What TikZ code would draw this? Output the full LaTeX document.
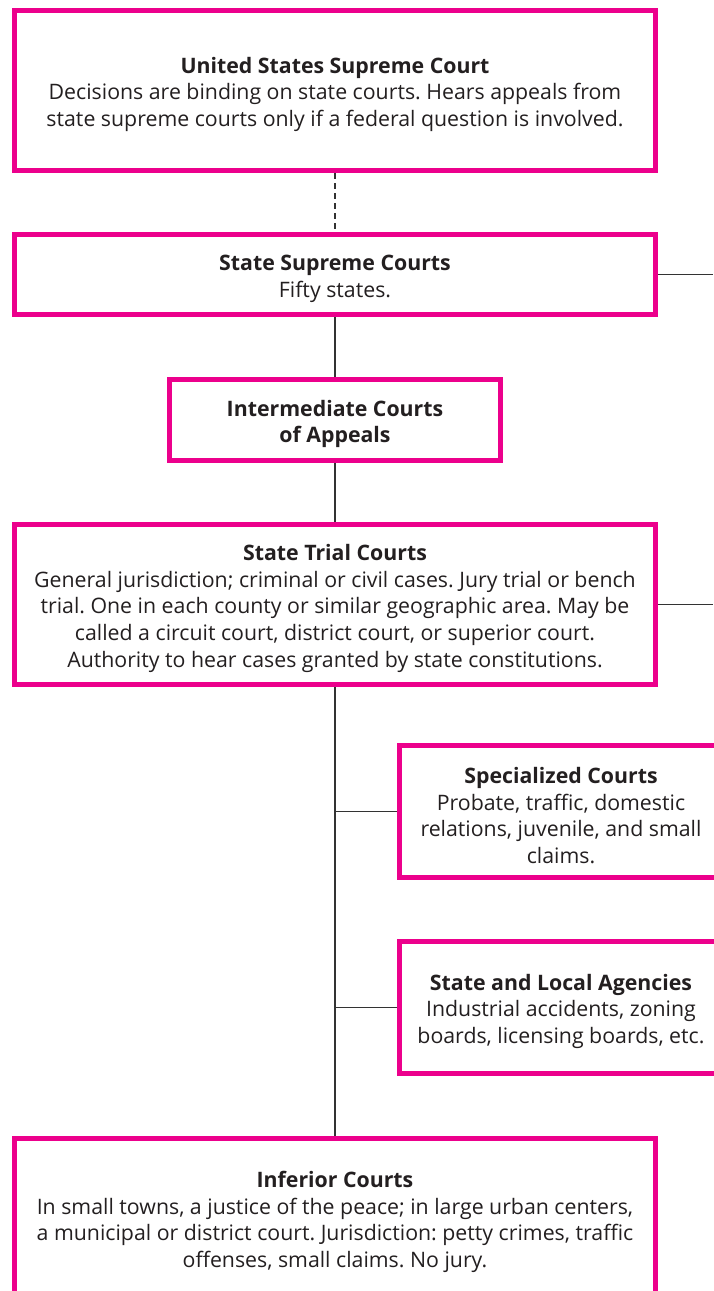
\documentclass[tikz,border=0pt]{standalone}
\usepackage{fontspec}
\setmainfont{Open Sans}
\frenchspacing
\definecolor{courtpink}{HTML}{EC008C}
\definecolor{inkgray}{HTML}{231F20}
\definecolor{linegray}{HTML}{333333}
\newcommand\liftline{\rule{0pt}{24pt}}
\begin{document}
\begin{tikzpicture}[x=1pt,y=-1pt,
  courtbox/.style={draw=courtpink, line width=5pt, inner sep=0pt, align=center,
    text=inkgray, font=\fontsize{21.3}{26.7}\selectfont\frenchspacing},
  link/.style={draw=linegray, line width=1.3pt},
  dashlink/.style={link, dash pattern=on 6pt off 4pt}]
\useasboundingbox (0,0) rectangle (713,1291);
\fill[white] (0,0) rectangle (713,1291);

\node[courtbox, minimum width=641pt, minimum height=160pt] (us) at (335,90.5)
  {\liftline\textbf{United States Supreme Court}\\
   Decisions are binding on state courts. Hears appeals from\\
   state supreme courts only if a federal question is involved.};

\node[courtbox, minimum width=641pt, minimum height=80pt] (ssc) at (335,274.5)
  {\liftline\textbf{State Supreme Courts}\\ Fifty states.};

\node[courtbox, minimum width=331pt, minimum height=81pt] (inter) at (335,420)
  {\liftline\textbf{Intermediate Courts}\\ \textbf{of Appeals}};

\node[courtbox, minimum width=641pt, minimum height=160pt] (trial) at (335,604.5)
  {\liftline\textbf{State Trial Courts}\\
   General jurisdiction; criminal or civil cases. Jury trial or bench\\
   trial. One in each county or similar geographic area. May be\\
   called a circuit court, district court, or superior court.\\
   Authority to hear cases granted by state constitutions.};

\node[courtbox, minimum width=323pt, minimum height=132pt] (spec) at (561,811.5)
  {\liftline\textbf{Specialized Courts}\\
   Probate, traffic, domestic\\
   relations, juvenile, and small\\
   claims.};

\node[courtbox, minimum width=323pt, minimum height=132pt] (agency) at (561,1007.5)
  {\liftline\textbf{State and Local Agencies}\\
   Industrial accidents, zoning\\
   boards, licensing boards, etc.};

\node[courtbox, minimum width=641pt, minimum height=159pt] (inferior) at (335,1218)
  {\liftline\textbf{Inferior Courts}\\
   In small towns, a justice of the peace; in large urban centers,\\
   a municipal or district court. Jurisdiction: petty crimes, traffic\\
   offenses, small claims. No jury.};

\coordinate (sscout) at (713,274.5);
\coordinate (trialout) at (713,604.5);

\draw[dashlink] (us.south) -- (ssc.north);
\draw[link] (ssc.south) -- (inter.north);
\draw[link] (inter.south) -- (trial.north);
\draw[link] (trial.south) -- (inferior.north);
\draw[link] (trial.south |- spec.west) -- (spec.west);
\draw[link] (trial.south |- agency.west) -- (agency.west);
\draw[link] (ssc.east) -- (sscout);
\draw[link] (trial.east) -- (trialout);
\end{tikzpicture}
\end{document}
